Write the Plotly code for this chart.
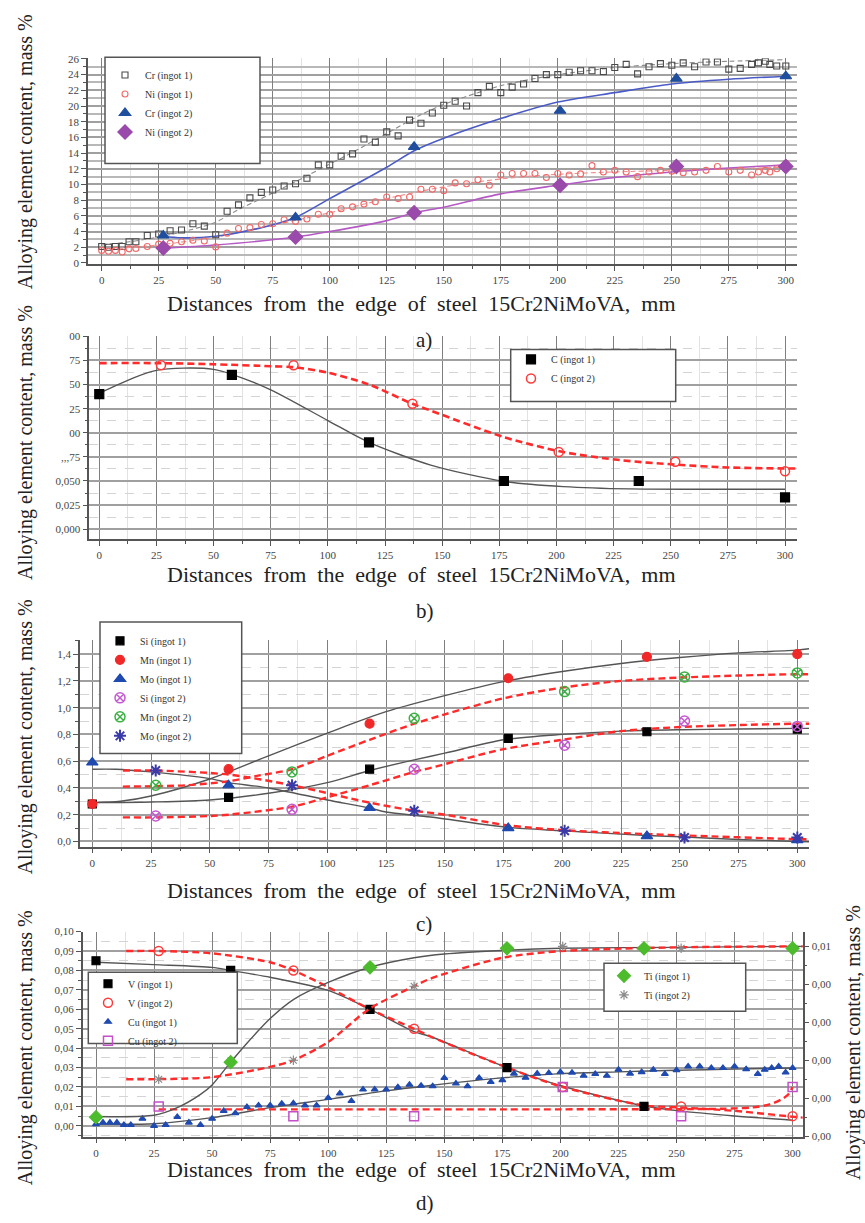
import plotly.graph_objects as go

W, H = 865, 1223

# ---------------- Panel a) Cr, Ni ----------------
a_x1 = [0, 3, 6, 9, 12, 15, 20, 25, 30, 35, 40, 45, 50, 55, 60, 65, 70, 75, 80, 85, 90, 95, 100,
        105, 110, 115, 120, 125, 130, 135, 140, 145, 150, 155, 160, 165, 170, 175, 180, 185, 190,
        195, 200, 205, 210, 215, 220, 225, 230, 235, 240, 245, 250, 255, 260, 265, 270, 275, 280,
        285, 288, 291, 293, 296, 300]
a_cr1 = [2.1, 2.0, 2.1, 2.1, 2.7, 2.7, 3.5, 3.7, 4.1, 4.2, 5.0, 4.7, 3.6, 6.6, 7.4, 8.3, 9.0, 9.3,
         9.8, 10.1, 10.8, 12.5, 12.5, 13.6, 13.9, 15.8, 15.4, 16.7, 16.2, 18.2, 17.8, 19.1,
         20.1, 20.6, 20.0, 21.7, 22.5, 21.7, 22.4, 22.8, 23.5, 24.0, 24.0, 24.3, 24.5, 24.5, 24.4,
         24.9, 25.3, 24.1, 25.0, 25.4, 25.2, 25.5, 25.0, 25.6, 25.6, 24.7, 24.8, 25.3,
         25.5, 25.7, 25.3, 25.1, 25.1]
a_ni1 = [1.6, 1.5, 1.6, 1.4, 1.8, 1.85, 2.1, 2.4, 2.5, 2.7, 2.9, 2.8, 2.05, 3.8, 4.4, 4.5, 4.9, 5.0,
         5.5, 5.3, 5.6, 6.2, 6.2, 6.9, 7.15, 7.5, 7.8, 8.4, 8.2, 8.4, 9.4, 9.4,
         9.2, 10.2, 10.1, 10.6, 9.9, 11.2, 11.4, 11.4, 11.4, 10.9, 11.4, 11.2, 11.35, 12.4, 11.6,
         11.8, 11.6, 11.0, 11.6, 11.8, 11.7, 11.5, 11.6, 11.8, 12.3, 11.6, 11.8, 11.2,
         11.6, 11.8, 11.6, 12.0, 12.7]
a_x2 = [27, 85, 137, 201, 252, 300]
a_cr2 = [3.5, 5.8, 14.8, 19.4, 23.5, 23.8]
a_ni2 = [1.9, 3.3, 6.4, 9.9, 12.3, 12.3]
# fitted curves
a_cr1_fx = [0, 12, 25, 40, 50, 60, 75, 90, 100, 110, 125, 140, 150, 165, 175, 190, 200, 225, 250, 275, 300]
a_cr1_fy = [2.3, 2.7, 3.3, 4.3, 5.2, 6.8, 8.9, 11.1, 12.6, 14.1, 16.5, 18.9, 20.2, 21.7, 22.6, 23.5, 24.0, 24.9, 25.4, 25.7, 25.9]
a_ni1_fx = [0, 25, 50, 75, 100, 125, 150, 175, 200, 225, 250, 275, 300]
a_ni1_fy = [1.7, 2.3, 3.3, 4.8, 6.4, 8.2, 9.7, 10.7, 11.3, 11.6, 11.8, 12.0, 12.2]
a_cr2_fx = [27, 35, 50, 70, 85, 100, 125, 137, 150, 175, 200, 225, 250, 275, 300]
a_cr2_fy = [3.4, 3.2, 3.4, 4.5, 5.8, 8.2, 12.2, 14.3, 15.9, 18.4, 20.5, 21.7, 22.8, 23.4, 23.8]
a_ni2_fx = [27, 50, 85, 100, 125, 137, 150, 175, 200, 225, 250, 275, 300]
a_ni2_fy = [1.9, 2.3, 3.3, 4.0, 5.4, 6.4, 7.1, 8.8, 9.9, 10.9, 11.6, 12.1, 12.5]
a_yticks = [0, 2, 4, 6, 8, 10, 12, 14, 16, 18, 20, 22, 24, 26]
a_yticktext = ["0", "2", "4", "6", "8", "10", "12", "14", "16", "18", "20", "22", "24", "26"]

# ---------------- Panel b) C ----------------
b_x1 = [0, 58, 118, 177, 236, 300]
b_c1 = [0.140, 0.160, 0.090, 0.050, 0.050, 0.033]
b_x2 = [27, 85, 137, 201, 252, 300]
b_c2 = [0.170, 0.170, 0.130, 0.080, 0.070, 0.060]
b_c1_fx = [0, 15, 25, 37, 50, 58, 75, 100, 118, 145, 177, 203, 232, 265, 300]
b_c1_fy = [0.141, 0.157, 0.1647, 0.167, 0.1657, 0.1606, 0.1445, 0.1127, 0.090, 0.0665, 0.0496, 0.0442, 0.0418, 0.0415, 0.0415]
b_c2_fx = [0, 25, 50, 75, 85, 100, 118, 137, 145, 177, 203, 228, 252, 275, 300, 305]
b_c2_fy = [0.1722, 0.1722, 0.171, 0.169, 0.168, 0.1623, 0.150, 0.130, 0.123, 0.0955, 0.080, 0.0716, 0.067, 0.064, 0.063, 0.063]
b_yticks = [0.0, 0.025, 0.05, 0.075, 0.1, 0.125, 0.15, 0.175, 0.2]
b_yticktext = ["0,000", "0,025", "0,050", ",,,75", "00", "25", "50", "75", "00"]

# ---------------- Panel c) Si, Mn, Mo ----------------
c_x1 = [0, 58, 118, 177, 236, 300]
c_si1 = [0.28, 0.33, 0.54, 0.77, 0.82, 0.84]
c_mn1 = [0.28, 0.54, 0.88, 1.22, 1.38, 1.40]
c_mo1 = [0.59, 0.42, 0.25, 0.10, 0.04, 0.01]
c_x2 = [27, 85, 137, 201, 252, 300]
c_si2 = [0.19, 0.24, 0.54, 0.72, 0.90, 0.86]
c_mn2 = [0.42, 0.52, 0.92, 1.12, 1.23, 1.26]
c_mo2 = [0.53, 0.42, 0.23, 0.08, 0.03, 0.03]
c_si1_fx = [0, 25, 50, 75, 100, 118, 137, 150, 175, 200, 225, 250, 275, 300, 305]
c_si1_fy = [0.29, 0.295, 0.31, 0.36, 0.44, 0.53, 0.61, 0.66, 0.76, 0.80, 0.825, 0.835, 0.84, 0.845, 0.845]
c_mn1_fx = [0, 12, 25, 50, 75, 100, 125, 150, 175, 200, 225, 250, 275, 300, 305]
c_mn1_fy = [0.29, 0.30, 0.34, 0.467, 0.64, 0.81, 0.97, 1.09, 1.195, 1.27, 1.33, 1.375, 1.41, 1.43, 1.44]
c_mo1_fx = [0, 10, 25, 50, 58, 75, 100, 118, 125, 144, 177, 200, 236, 250, 275, 300, 305]
c_mo1_fy = [0.54, 0.54, 0.52, 0.47, 0.44, 0.40, 0.31, 0.25, 0.22, 0.183, 0.105, 0.08, 0.045, 0.035, 0.015, 0.0, -0.002]
c_si2_fx = [13, 27, 50, 58, 85, 100, 118, 137, 144, 175, 200, 225, 250, 275, 300, 305]
c_si2_fy = [0.18, 0.18, 0.19, 0.20, 0.26, 0.33, 0.42, 0.52, 0.55, 0.69, 0.76, 0.825, 0.855, 0.87, 0.88, 0.88]
c_mn2_fx = [13, 40, 58, 70, 85, 100, 118, 137, 150, 175, 200, 225, 250, 275, 300, 305]
c_mn2_fy = [0.41, 0.42, 0.45, 0.49, 0.54, 0.64, 0.76, 0.88, 0.95, 1.07, 1.15, 1.20, 1.225, 1.24, 1.25, 1.25]
c_mo2_fx = [13, 27, 58, 85, 118, 137, 150, 177, 200, 236, 252, 300, 305]
c_mo2_fy = [0.53, 0.53, 0.50, 0.42, 0.29, 0.23, 0.20, 0.12, 0.085, 0.055, 0.045, 0.017, 0.016]
c_yticks = [0.0, 0.2, 0.4, 0.6, 0.8, 1.0, 1.2, 1.4]
c_yticktext = ["0,0", "0,2", "0,4", "0,6", "0,8", "1,0", "1,2", "1,4"]

# ---------------- Panel d) V, Cu, Ti ----------------
d_v1_x = [0, 58, 118, 177, 236]
d_v1 = [0.085, 0.080, 0.060, 0.030, 0.010]
d_x2 = [27, 85, 137, 201, 252, 300]
d_v2 = [0.090, 0.080, 0.050, 0.020, 0.010, 0.005]
d_cu2 = [0.010, 0.005, 0.005, 0.020, 0.005, 0.020]
d_cu1_x = [0, 3, 6, 9, 12, 15, 20, 25, 30, 35, 40, 45, 50, 55, 60, 65, 70, 75, 80, 85, 90, 95, 100,
           105, 110, 115, 120, 125, 130, 135, 140, 145, 150, 155, 160, 165, 170, 175, 180, 185, 190,
           195, 200, 205, 210, 215, 220, 225, 230, 235, 240, 245, 250, 255, 260, 265, 270, 275, 280,
           285, 288, 291, 294, 297, 300]
d_cu1 = [0.0009, 0.0017, 0.0017, 0.0017, 0.0005, 0.0005, 0.0037, 0.0, 0.0005, 0.0046, 0.0017, 0.0005,
         0.0037, 0.0077, 0.0065, 0.0097, 0.0105, 0.0105, 0.0114, 0.0116, 0.0105, 0.0105, 0.0144,
         0.0167, 0.0128, 0.0187, 0.0187, 0.0187, 0.0199, 0.0212, 0.0207, 0.0204, 0.0247, 0.0218,
         0.0204, 0.0247, 0.0226, 0.0235, 0.0269, 0.0248, 0.0269, 0.0272, 0.0277, 0.0274, 0.0258,
         0.0267, 0.0258, 0.0289, 0.0269, 0.0277, 0.0289, 0.0267, 0.0287, 0.0306, 0.0306, 0.0298,
         0.0298, 0.0306, 0.0292, 0.0267, 0.0289, 0.0298, 0.0306, 0.0275, 0.0298]
d_ti1_x = [0, 58, 118, 177, 236, 300]
d_ti1 = [0.0010, 0.0039, 0.0089, 0.0099, 0.0099, 0.0099]
d_ti2_x = [27, 85, 137, 201, 252]
d_ti2 = [0.0030, 0.0040, 0.0079, 0.0100, 0.0099]
d_v1_fx = [0, 25, 50, 58, 75, 100, 118, 137, 144, 177, 201, 236, 251, 275, 300]
d_v1_fy = [0.0842, 0.083, 0.0816, 0.080, 0.0765, 0.0697, 0.060, 0.0485, 0.046, 0.030, 0.0204, 0.0102, 0.0077, 0.0051, 0.0029]
d_v2_fx = [13, 27, 50, 75, 85, 100, 118, 137, 144, 177, 201, 236, 251, 275, 300, 305]
d_v2_fy = [0.090, 0.090, 0.0888, 0.0842, 0.080, 0.0714, 0.060, 0.050, 0.046, 0.030, 0.020, 0.0105, 0.0095, 0.0077, 0.0047, 0.0042]
d_cu1_fx = [0, 25, 50, 75, 100, 124, 144, 175, 200, 225, 250, 275, 300]
d_cu1_fy = [0.0009, 0.0011, 0.0042, 0.0094, 0.0136, 0.0179, 0.0208, 0.0247, 0.0269, 0.0278, 0.0286, 0.0292, 0.0298]
d_cu2_fx = [27, 100, 200, 250, 270, 283, 290, 295, 298, 300]
d_cu2_fy = [0.0085, 0.0085, 0.0085, 0.0086, 0.0088, 0.0095, 0.011, 0.0135, 0.016, 0.020]
d_ti1_fx = [0, 25, 35, 45, 50, 58, 65, 75, 85, 100, 118, 137, 150, 177, 200, 250, 300, 305]
d_ti1_fy = [0.00104, 0.0011, 0.0015, 0.0022, 0.0027, 0.0039, 0.0049, 0.0062, 0.0072, 0.0081, 0.0089, 0.0094, 0.0096, 0.0098, 0.0099, 0.00995, 0.0100, 0.0100]
d_ti2_fx = [13, 49, 75, 85, 100, 118, 137, 144, 175, 200, 250, 300, 305]
d_ti2_fy = [0.0030, 0.0031, 0.00365, 0.0040, 0.00496, 0.00673, 0.0079, 0.0083, 0.0094, 0.00975, 0.00995, 0.0100, 0.0100]
d_yticks = [0.0, 0.01, 0.02, 0.03, 0.04, 0.05, 0.06, 0.07, 0.08, 0.09, 0.10]
d_yticktext = ["0,00", "0,01", "0,02", "0,03", "0,04", "0,05", "0,06", "0,07", "0,08", "0,09", "0,10"]
d_y2ticks = [0.0, 0.002, 0.004, 0.006, 0.008, 0.010]
d_y2ticktext = ["0,00", "0,00", "0,00", "0,00", "0,00", "0,01"]

x_ticks = [0, 25, 50, 75, 100, 125, 150, 175, 200, 225, 250, 275, 300]
x_ticktext = ["0", "25", "50", "75", "100", "125", "150", "175", "200", "225", "250", "275", "300"]

ytitle = "Alloying element content, mass %"
xtitle = "Distances\u00a0 from\u00a0 the\u00a0 edge\u00a0 of\u00a0 steel\u00a0 15Cr2NiMoVA,\u00a0 mm"

SERIF = "Liberation Serif"


def px(X):
    return X / W


def py(Y):
    return 1 - Y / H


def xaxis(left, right, rng, anchor):
    return dict(domain=[px(left), px(right)], range=rng, anchor=anchor,
                tickmode="array", tickvals=x_ticks, ticktext=x_ticktext,
                ticks="outside", ticklen=5, tickcolor="#555", showline=True, linecolor="#555",
                linewidth=1.5, showgrid=True, gridcolor="#7f7f7f", gridwidth=1, zeroline=False,
                minor=dict(dtick=12.5, tick0=0, ticks="outside", ticklen=3, tickcolor="#555",
                           showgrid=True, gridcolor="#e2e2e2", gridwidth=1),
                tickfont=dict(family=SERIF, size=11, color="#444"))


def yaxis(top, bottom, rng, anchor, tv, tt, mdt, side="left", overlay=None,
          mgrid="#d4d4d4", mdash="dash", mwidth=1):
    d = dict(domain=[py(bottom), py(top)], range=rng, anchor=anchor, side=side,
             tickmode="array", tickvals=tv, ticktext=tt,
             ticks="outside", ticklen=5, tickcolor="#555", showline=True, linecolor="#555",
             linewidth=1.5, showgrid=True, gridcolor="#a0a0a0", gridwidth=2, zeroline=False,
             minor=dict(dtick=mdt, tick0=0, ticks="outside", ticklen=3, tickcolor="#555",
                        showgrid=True, gridcolor=mgrid, gridwidth=mwidth, griddash=mdash),
             tickfont=dict(family=SERIF, size=11, color="#444"))
    if overlay:
        d["overlaying"] = overlay
        d["showgrid"] = False
        d["minor"]["showgrid"] = False
    return d


fig = go.Figure()


def pts(x, y, name, xa, ya, legend, symbol, color, size, lw=1.2):
    fig.add_trace(go.Scatter(x=x, y=y, mode="markers", name=name, xaxis=xa, yaxis=ya,
                             legend=legend,
                             marker=dict(symbol=symbol, size=size, color=color,
                                         line=dict(width=lw, color=color))))


def fit(x, y, xa, ya, color, width=1.4, dash="solid"):
    fig.add_trace(go.Scatter(x=x, y=y, mode="lines", xaxis=xa, yaxis=ya, showlegend=False,
                             hoverinfo="skip", line=dict(color=color, width=width, dash=dash,
                                                         shape="spline", smoothing=0.8)))


RED = "#ff2b2b"
GREY = "#555555"

# panel a
fit(a_cr1_fx, a_cr1_fy, "x", "y", "#8a8a8a", 1.1, "5px,3px")
fit(a_ni1_fx, a_ni1_fy, "x", "y", "#f08a8a", 1.1, "5px,3px")
fit(a_cr2_fx, a_cr2_fy, "x", "y", "#4b5bc6", 1.6)
fit(a_ni2_fx, a_ni2_fy, "x", "y", "#b55ac4", 1.6)
pts(a_x1, a_cr1, "Cr (ingot 1)", "x", "y", "legend", "square-open", "#4a4a4a", 6, 1.1)
pts(a_x1, a_ni1, "Ni (ingot 1)", "x", "y", "legend", "circle-open", "#f06a6a", 6, 1.1)
pts(a_x2, a_cr2, "Cr (ingot 2)", "x", "y", "legend", "triangle-up", "#1f4e9e", 10)
pts(a_x2, a_ni2, "Ni (ingot 2)", "x", "y", "legend", "diamond", "#9a4aaa", 11)

# panel b
fit(b_c1_fx, b_c1_fy, "x2", "y2", GREY, 1.4)
fit(b_c2_fx, b_c2_fy, "x2", "y2", RED, 2.6, "7px,4px")
pts(b_x1, b_c1, "C (ingot 1)", "x2", "y2", "legend2", "square", "#000000", 9)
pts(b_x2, b_c2, "C (ingot 2)", "x2", "y2", "legend2", "circle-open", "#ff3a3a", 9, 1.5)

# panel c
fit(c_si1_fx, c_si1_fy, "x3", "y3", GREY, 1.4)
fit(c_mn1_fx, c_mn1_fy, "x3", "y3", GREY, 1.4)
fit(c_mo1_fx, c_mo1_fy, "x3", "y3", GREY, 1.4)
fit(c_si2_fx, c_si2_fy, "x3", "y3", RED, 2.4, "7px,4px")
fit(c_mn2_fx, c_mn2_fy, "x3", "y3", RED, 2.4, "7px,4px")
fit(c_mo2_fx, c_mo2_fy, "x3", "y3", RED, 2.4, "7px,4px")
pts(c_x1, c_si1, "Si (ingot 1)", "x3", "y3", "legend3", "square", "#000000", 8)
pts(c_x1, c_mn1, "Mn (ingot 1)", "x3", "y3", "legend3", "circle", "#f02828", 9)
pts(c_x1, c_mo1, "Mo (ingot 1)", "x3", "y3", "legend3", "triangle-up", "#1f4ab0", 10)
pts(c_x2, c_si2, "Si (ingot 2)", "x3", "y3", "legend3", "circle-x-open", "#c45ad0", 10, 1.5)
pts(c_x2, c_mn2, "Mn (ingot 2)", "x3", "y3", "legend3", "circle-x-open", "#3cb043", 10, 1.5)
pts(c_x2, c_mo2, "Mo (ingot 2)", "x3", "y3", "legend3", "asterisk-open", "#3a3aa8", 10, 2)

# panel d
fit(d_v1_fx, d_v1_fy, "x4", "y4", GREY, 1.4)
fit(d_v2_fx, d_v2_fy, "x4", "y4", RED, 2.4, "7px,4px")
fit(d_cu1_fx, d_cu1_fy, "x4", "y4", GREY, 1.4)
fit(d_cu2_fx, d_cu2_fy, "x4", "y4", RED, 2.4, "7px,4px")
fit(d_ti1_fx, d_ti1_fy, "x4", "y5", GREY, 1.4)
fit(d_ti2_fx, d_ti2_fy, "x4", "y5", RED, 2.4, "7px,4px")
pts(d_v1_x, d_v1, "V (ingot 1)", "x4", "y4", "legend4", "square", "#000000", 8)
pts(d_x2, d_v2, "V (ingot 2)", "x4", "y4", "legend4", "circle-open", "#ff3a3a", 9, 1.5)
pts(d_cu1_x, d_cu1, "Cu (ingot 1)", "x4", "y4", "legend4", "triangle-up", "#1f4ab0", 6)
pts(d_x2, d_cu2, "Cu (ingot 2)", "x4", "y4", "legend4", "square-open", "#c450c8", 9, 1.5)
pts(d_ti1_x, d_ti1, "Ti (ingot 1)", "x4", "y5", "legend5", "diamond", "#4cbb2c", 10)
pts(d_ti2_x, d_ti2, "Ti (ingot 2)", "x4", "y5", "legend5", "asterisk-open", "#8a8a8a", 8, 1.2)

leg_font = dict(family=SERIF, size=10, color="#333")


def legend(X, Y):
    return dict(x=px(X), y=py(Y), xanchor="left", yanchor="top", bgcolor="rgba(0,0,0,0)",
                borderwidth=0, font=leg_font, itemclick=False, tracegroupgap=0)


boxes = [(105, 51.7, 260, 159), (510.7, 346.7, 675.7, 399), (100, 621.7, 241.7, 754.3),
         (88.3, 975, 237.3, 1047), (604, 966, 745.7, 1014.3)]
shapes = [dict(type="rect", xref="paper", yref="paper", x0=px(a), x1=px(c), y0=py(d), y1=py(b),
               fillcolor="white", line=dict(color="#555", width=1.5), layer="above")
          for a, b, c, d in boxes]

ann = []
for yc in [147.5, 441, 738, 1051.7]:
    ann.append(dict(text=ytitle, x=px(25), y=py(yc), xref="paper", yref="paper", showarrow=False,
                    textangle=-90, font=dict(family=SERIF, size=20, color="#222"),
                    xanchor="center", yanchor="middle"))
ann.append(dict(text=ytitle, x=px(853), y=py(1046.5), xref="paper", yref="paper", showarrow=False,
                textangle=-90, font=dict(family=SERIF, size=20, color="#222"),
                xanchor="center", yanchor="middle"))
for yc in [300.5, 574, 893, 1174.5]:
    ann.append(dict(text=xtitle, x=px(421.5), y=py(yc), xref="paper", yref="paper", showarrow=False,
                    font=dict(family=SERIF, size=22, color="#222"), xanchor="center", yanchor="middle"))
for lab, yc in [("a)", 336.7), ("b)", 610), ("c)", 926.7), ("d)", 1208.3)]:
    ann.append(dict(text=lab, x=px(414), y=py(yc), xref="paper", yref="paper", showarrow=False,
                    font=dict(family=SERIF, size=21, color="#222"), xanchor="left", yanchor="middle"))

fig.update_layout(
    width=W, height=H, margin=dict(l=0, r=0, t=0, b=0),
    paper_bgcolor="white", plot_bgcolor="white", showlegend=True,
    font=dict(family=SERIF),
    xaxis=xaxis(88, 797, [-6.0, 304.9], "y"),
    yaxis=yaxis(52.6, 260.1, [-0.1, 26.1], "x", a_yticks, a_yticktext, 1,
                mgrid="#b8b8b8", mdash="solid", mwidth=1.5),
    xaxis2=xaxis(89.3, 796.7, [-4.37, 305.1], "y2"),
    yaxis2=yaxis(333.3, 537.7, [-0.01, 0.2], "x2", b_yticks, b_yticktext, 0.0125),
    xaxis3=xaxis(80, 809, [-5.23, 304.98], "y3"),
    yaxis3=yaxis(640, 848.3, [-0.039, 1.504], "x3", c_yticks, c_yticktext, 0.1),
    xaxis4=xaxis(82.7, 802.7, [-5.73, 304.35], "y4"),
    yaxis4=yaxis(934, 1141, [-0.00561, 0.1], "x4", d_yticks, d_yticktext, 0.005),
    yaxis5=yaxis(934, 1141, [-0.00003, 0.01078], "x4", d_y2ticks, d_y2ticktext, 0.001,
                 side="right", overlay="y4"),
    legend=legend(105, 55),
    legend2=legend(511, 342),
    legend3=legend(100, 626),
    legend4=legend(88, 972),
    legend5=legend(604, 964),
    shapes=shapes,
    annotations=ann,
)

fig.write_html("out.html")
